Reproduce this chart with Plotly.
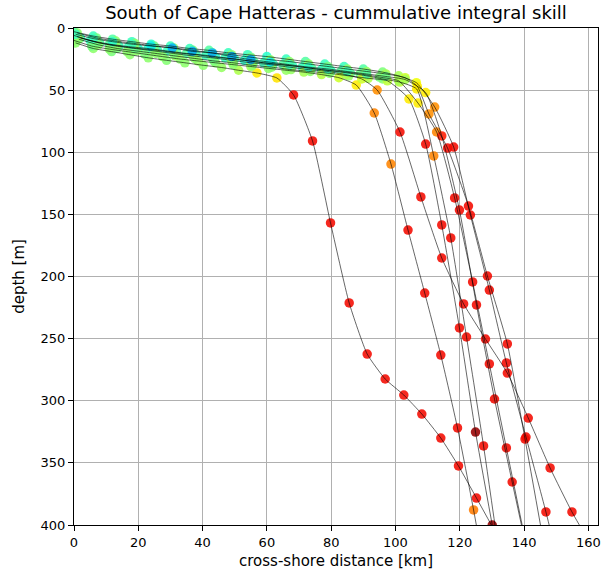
import plotly.graph_objects as go

title_text = "South of Cape Hatteras - cummulative integral skill"
x_label = "cross-shore distance [km]"
y_label = "depth [m]"
x_ticks = [0, 20, 40, 60, 80, 100, 120, 140, 160]
y_ticks = [0, 50, 100, 150, 200, 250, 300, 350, 400]

# ---- trajectories: cross-shore distance [km], depth [m], skill ----
line_A_x = [0.5, 6.0, 11.7, 17.4, 23.1, 28.8, 34.5, 40.2, 45.9, 51.2, 56.9, 63.1, 68.3, 74.2, 79.8, 85.6, 91.2, 96.8, 102.6, 108.2, 114.1, 119.6, 125.2, 130.9]
line_A_y = [12.0, 16.5, 19.0, 21.5, 24.0, 26.0, 28.0, 30.0, 31.8, 34.0, 36.2, 40.2, 53.9, 90.9, 156.9, 221.3, 262.4, 282.5, 295.4, 310.7, 330.0, 352.5, 378.3, 405.0]
line_A_s = [0.52, 0.52, 0.5, 0.52, 0.52, 0.51, 0.52, 0.52, 0.53, 0.56, 0.66, 0.67, 0.9, 0.9, 0.9, 0.9, 0.9, 0.9, 0.9, 0.9, 0.9, 0.9, 0.9, 0.9]

line_B_x = [0.0, 5.5, 11.0, 16.5, 22.0, 27.5, 33.0, 38.5, 44.0, 49.5, 55.0, 60.5, 66.0, 71.5, 77.0, 82.4, 87.8, 93.4, 98.6, 103.9, 109.1, 114.1, 119.3, 124.3, 129.3]
line_B_y = [10.0, 14.5, 17.0, 19.0, 21.0, 23.0, 25.0, 26.5, 28.0, 29.5, 31.0, 32.5, 34.0, 35.5, 37.5, 40.0, 45.9, 68.4, 109.5, 162.6, 213.3, 263.2, 321.9, 387.9, 460.0]
line_B_s = [0.52, 0.49, 0.52, 0.52, 0.5, 0.52, 0.52, 0.53, 0.52, 0.52, 0.54, 0.52, 0.53, 0.55, 0.57, 0.6, 0.66, 0.77, 0.77, 0.9, 0.9, 0.9, 0.9, 0.78, 0.9]

line_C_x = [1.5, 7.5, 13.5, 19.5, 25.5, 31.5, 37.5, 43.5, 49.5, 55.5, 61.5, 67.5, 73.5, 79.5, 85.5, 91.5, 97.5, 104.2, 109.4, 114.4, 119.9, 124.9, 130.1]
line_C_y = [9.0, 13.5, 16.5, 18.5, 20.5, 22.5, 24.5, 26.5, 28.0, 30.0, 31.5, 33.5, 35.0, 36.5, 38.5, 40.5, 42.5, 57.1, 93.4, 158.5, 241.4, 325.2, 400.0]
line_C_s = [0.52, 0.52, 0.5, 0.52, 0.52, 0.53, 0.52, 0.5, 0.52, 0.52, 0.52, 0.53, 0.52, 0.52, 0.53, 0.56, 0.58, 0.66, 0.9, 0.9, 0.9, 0.98, 0.98]

line_D_x = [2.0, 8.0, 14.0, 20.0, 26.0, 32.0, 38.0, 44.0, 50.0, 56.0, 62.0, 68.0, 74.0, 80.0, 86.0, 91.0, 96.0, 101.3, 106.6, 111.9, 117.2, 122.1, 127.4, 132.6]
line_D_y = [8.0, 12.0, 14.5, 16.5, 18.0, 20.0, 21.5, 23.5, 25.0, 27.0, 29.0, 30.5, 32.5, 34.5, 36.5, 38.5, 41.0, 43.5, 49.1, 103.0, 169.0, 248.7, 336.4, 430.0]
line_D_s = [0.42, 0.45, 0.42, 0.4, 0.42, 0.45, 0.42, 0.4, 0.42, 0.45, 0.42, 0.42, 0.45, 0.42, 0.45, 0.48, 0.52, 0.58, 0.66, 0.77, 0.9, 0.9, 0.9, 0.9]

line_F_x = [1.0, 7.0, 13.0, 19.0, 25.0, 31.0, 37.0, 43.0, 49.0, 55.0, 61.0, 67.0, 73.0, 79.0, 84.5, 89.5, 94.3, 101.4, 107.9, 114.4, 121.2, 128.0, 134.8, 141.3, 148.1, 154.9, 161.7]
line_F_y = [7.0, 11.5, 14.5, 16.5, 18.5, 20.5, 22.5, 24.0, 26.0, 28.0, 29.5, 31.5, 33.5, 35.0, 37.5, 41.0, 49.9, 83.7, 136.0, 185.1, 222.1, 250.3, 277.7, 313.9, 354.1, 389.5, 420.0]
line_F_s = [0.52, 0.49, 0.52, 0.48, 0.52, 0.5, 0.52, 0.48, 0.52, 0.52, 0.5, 0.52, 0.53, 0.52, 0.56, 0.6, 0.76, 0.9, 0.9, 0.9, 0.9, 0.9, 0.9, 0.9, 0.9, 0.9, 0.9]

line_G_x = [0.0, 5.0, 11.0, 17.0, 23.0, 29.0, 35.0, 41.0, 47.0, 53.0, 59.0, 65.0, 71.0, 77.0, 83.0, 89.0, 95.0, 101.0, 107.0, 112.8, 118.4, 124.0, 129.2, 134.5, 139.8]
line_G_y = [6.0, 10.0, 13.0, 15.0, 16.5, 18.5, 20.5, 22.0, 24.0, 26.0, 28.0, 29.5, 31.5, 33.5, 35.0, 37.0, 39.5, 42.5, 60.4, 83.7, 136.8, 204.4, 270.4, 338.0, 405.0]
line_G_s = [0.42, 0.42, 0.45, 0.42, 0.4, 0.42, 0.45, 0.42, 0.42, 0.4, 0.42, 0.45, 0.42, 0.42, 0.45, 0.48, 0.5, 0.55, 0.66, 0.77, 0.9, 0.9, 0.9, 0.9, 0.9]

line_I_x = [1.0, 7.0, 13.0, 19.0, 25.0, 31.0, 37.0, 43.0, 49.0, 55.0, 61.0, 67.0, 73.0, 79.0, 85.0, 91.0, 97.0, 103.0, 106.8, 110.4, 116.2, 122.7, 128.6, 134.8, 140.3, 145.8]
line_I_y = [4.0, 8.0, 10.5, 12.5, 14.5, 16.0, 18.0, 20.0, 21.5, 23.5, 25.5, 27.0, 29.0, 31.0, 33.0, 35.0, 37.0, 40.0, 47.0, 69.2, 96.6, 143.3, 199.6, 254.3, 330.8, 410.0]
line_I_s = [0.52, 0.49, 0.52, 0.52, 0.48, 0.52, 0.49, 0.52, 0.52, 0.49, 0.52, 0.52, 0.52, 0.49, 0.52, 0.53, 0.55, 0.6, 0.66, 0.76, 0.9, 0.9, 0.9, 0.9, 0.9, 0.9]

line_J_x = [0.0, 6.0, 12.0, 18.0, 24.0, 30.0, 36.0, 42.0, 48.0, 54.0, 60.0, 66.0, 72.0, 78.0, 84.0, 90.0, 96.0, 101.0, 106.5, 112.2, 118.1, 123.3, 129.2, 134.5, 140.6, 146.8, 152.5]
line_J_y = [3.0, 6.5, 9.0, 11.0, 13.0, 14.5, 16.5, 18.0, 20.0, 21.5, 23.0, 25.0, 27.0, 29.0, 31.0, 33.0, 35.5, 38.5, 44.0, 63.6, 95.8, 150.5, 210.9, 269.6, 329.2, 389.5, 450.0]
line_J_s = [0.42, 0.42, 0.45, 0.42, 0.4, 0.42, 0.42, 0.45, 0.42, 0.42, 0.4, 0.42, 0.45, 0.42, 0.42, 0.45, 0.5, 0.55, 0.64, 0.76, 0.9, 0.9, 0.9, 0.9, 0.9, 0.9, 0.9]

line_H_x = [0.5, 6.0, 12.0, 18.0, 24.0, 30.6, 36.8, 43.0, 49.1, 55.0, 61.0, 67.0, 73.0, 79.0, 85.0, 91.0, 97.0, 103.0, 109.4, 114.4, 119.9, 125.2, 130.8, 136.3, 141.7]
line_H_y = [5.0, 8.5, 11.0, 13.0, 14.5, 16.1, 18.8, 20.1, 23.0, 25.5, 27.5, 29.5, 31.5, 33.0, 35.0, 37.0, 39.0, 41.5, 52.0, 86.9, 146.5, 222.9, 298.6, 365.4, 430.0]
line_H_s = [0.42, 0.42, 0.4, 0.42, 0.36, 0.3, 0.3, 0.3, 0.3, 0.3, 0.36, 0.42, 0.4, 0.42, 0.42, 0.45, 0.48, 0.55, 0.66, 0.88, 0.9, 0.9, 0.9, 0.9, 0.9]

lines = [
    (line_J_x, line_J_y, line_J_s),
    (line_D_x, line_D_y, line_D_s),
    (line_G_x, line_G_y, line_G_s),
    (line_A_x, line_A_y, line_A_s),
    (line_B_x, line_B_y, line_B_s),
    (line_C_x, line_C_y, line_C_s),
    (line_F_x, line_F_y, line_F_s),
    (line_I_x, line_I_y, line_I_s),
    (line_H_x, line_H_y, line_H_s),
]

# matplotlib "jet" colormap
jet = [
    [0.0, "rgb(0,0,128)"], [0.11, "rgb(0,0,255)"], [0.125, "rgb(0,0,255)"],
    [0.34, "rgb(0,219,255)"], [0.35, "rgb(0,230,247)"], [0.375, "rgb(21,255,226)"],
    [0.64, "rgb(239,255,8)"], [0.65, "rgb(247,245,0)"], [0.66, "rgb(255,236,0)"],
    [0.89, "rgb(255,19,0)"], [0.91, "rgb(232,0,0)"], [1.0, "rgb(128,0,0)"],
]

fig = go.Figure()
for xs, ys, ss in lines:
    fig.add_trace(go.Scatter(
        x=xs, y=ys, mode="markers",
        marker=dict(size=9.5, color=ss, colorscale=jet, cmin=0, cmax=1,
                    opacity=0.88, line=dict(width=0)),
        showlegend=False, hoverinfo="skip"))
for xs, ys, ss in lines:
    fig.add_trace(go.Scatter(
        x=xs, y=ys, mode="lines",
        line=dict(color="rgba(0,0,0,0.75)", width=0.8, shape="spline", smoothing=0.5),
        showlegend=False, hoverinfo="skip"))

font_family = "DejaVu Sans"
axis_common = dict(
    showgrid=True, gridcolor="#b0b0b0", gridwidth=1,
    showline=True, linecolor="black", linewidth=1, mirror=True,
    ticks="outside", ticklen=5, tickwidth=1, tickcolor="black",
    tickfont=dict(family=font_family, size=13, color="black"),
    zeroline=False,
)
fig.update_layout(
    width=605, height=572,
    margin=dict(l=74, r=4, t=28, b=47),
    paper_bgcolor="white", plot_bgcolor="white",
    title=dict(text=title_text, x=0.5, xref="paper", xanchor="center",
               y=1 - 13 / 572, yref="container", yanchor="middle",
               font=dict(family=font_family, size=18, color="black")),
    xaxis=dict(range=[0, 163], tickvals=x_ticks,
               title=dict(text=x_label, font=dict(family=font_family, size=15, color="black"), standoff=6),
               **axis_common),
    yaxis=dict(range=[400, 0], tickvals=y_ticks,
               title=dict(text=y_label, font=dict(family=font_family, size=15, color="black"), standoff=12),
               **axis_common),
)
fig.write_html(
    "out.html",
    config={"displayModeBar": False},
    post_script="document.body.style.margin='0';document.body.style.overflow='hidden';",
)
